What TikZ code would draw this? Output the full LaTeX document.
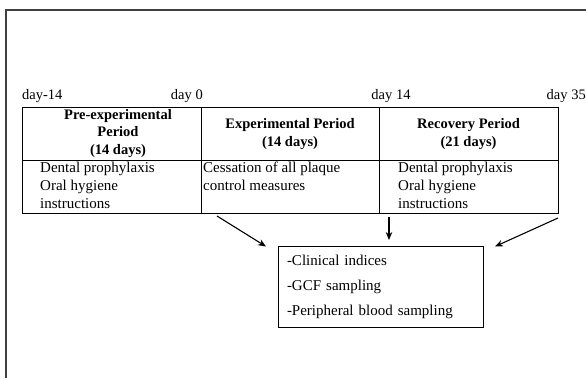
\documentclass[tikz,border=0pt]{standalone}
\usepackage{fontspec}
\setmainfont{Liberation Serif}
\usetikzlibrary{arrows.meta}

\tikzset{
  head/.style = {font=\fontsize{14.5}{17.5}\selectfont\bfseries, align=center, inner sep=0pt},
  body/.style = {font=\fontsize{15}{18}\selectfont, align=left, anchor=north west, inner sep=0pt},
  day/.style = {font=\fontsize{14.5}{16}\selectfont, inner sep=0pt},
  arr/.style = {-{Stealth[length=8pt,width=6.5pt]}, line width=1.1pt}
}

\begin{document}
\begin{tikzpicture}[x=1pt, y=-1pt]
\useasboundingbox (0,0) rectangle (586,378);

% outer frame
\draw[black!75, line width=2pt] (5.5,378) -- (5.5,9.5) -- (586,9.5);

% time line labels
\node[day, anchor=west] (d1) at (22,96) {day-14};
\node[day, anchor=east] (d2) at (203,96) {day 0};
\node[day] (d3) at (391,96) {day 14};
\node[day, anchor=east] (d4) at (586,96) {day 35};

% table
\draw[line width=0.8pt] (22,107) rectangle (558,213);
\draw[line width=0.8pt] (22,160) -- (558,160);
\draw[line width=0.8pt] (201,107) -- (201,213);
\draw[line width=0.8pt] (379,107) -- (379,213);

\node[head] (pre) at (118,133.5) {Pre-experimental\\Period\\(14 days)};
\node[head] (exp) at (290,134) {Experimental Period\\(14 days)};
\node[head] (rec) at (468.5,134) {Recovery Period\\(21 days)};

\node[body] (pretxt) at (40,161.5) {Dental prophylaxis\\Oral hygiene\\instructions};
\node[body] (exptxt) at (203,161.5) {Cessation of all plaque\\control measures};
\node[body] (rectxt) at (398,161.5) {Dental prophylaxis\\Oral hygiene\\instructions};

% measurements
\node[draw, line width=0.8pt, minimum width=205pt, minimum height=81pt,
      text width=187pt, align=left, inner sep=0pt,
      font=\fontsize{15}{25}\selectfont] (res) at (380.5,286.5)
  {-Clinical indices\\-GCF sampling\\-Peripheral blood sampling};

\coordinate (a1) at (217,216);
\coordinate (a2) at (389,217);
\coordinate (a3) at (558,218);
\coordinate (b1) at (266,246.5);
\coordinate (b2) at (389,240);
\coordinate (b3) at (495,246.5);
\draw[arr] (a1) -- (b1);
\draw[arr] (a2) -- (b2);
\draw[arr] (a3) -- (b3);

\end{tikzpicture}
\end{document}
